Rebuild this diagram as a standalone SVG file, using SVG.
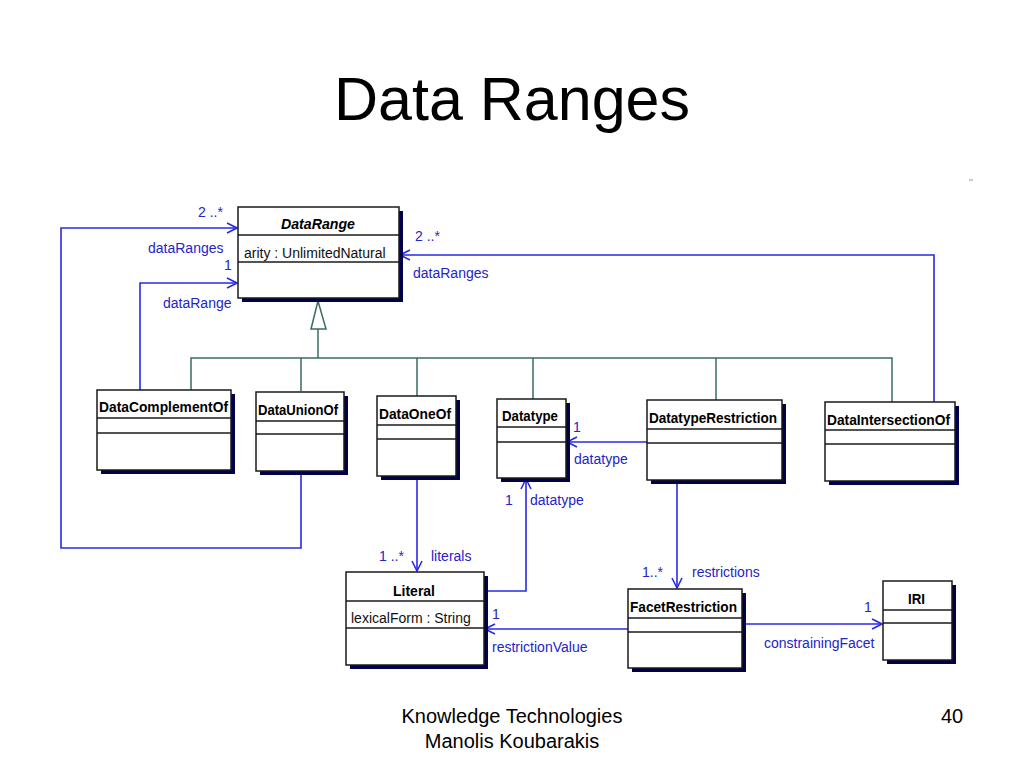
<svg xmlns="http://www.w3.org/2000/svg" width="1024" height="768" viewBox="0 0 1024 768">
<defs>
<style>
.box{fill:#fff;stroke:#1a1a1a;stroke-width:1.5}
.sh{fill:#00004d}
.sep{stroke:#1a1a1a;stroke-width:1.5}
.cn{font-family:"Liberation Sans",Arial,sans-serif;font-size:15px;font-weight:bold;fill:#000}
.at{font-family:"Liberation Sans",Arial,sans-serif;font-size:14px;fill:#111}
.lb{font-family:"Liberation Sans",Arial,sans-serif;font-size:14px;fill:#2424c8}
.as{fill:none;stroke:#2a2ae6;stroke-width:1.6}
.gen{fill:none;stroke:#3b6b64;stroke-width:1.5}
.ft{font-family:"Liberation Sans",Arial,sans-serif;font-size:20px;fill:#000}
</style>
<marker id="open" viewBox="0 0 12 12" refX="11" refY="6" markerWidth="12" markerHeight="12" markerUnits="userSpaceOnUse" orient="auto">
<path d="M1,1 L11,6 L1,11" fill="none" stroke="#2a2ae6" stroke-width="1.6"/>
</marker>
</defs>
<rect width="1024" height="768" fill="#fff"/>
<text x="512" y="120" text-anchor="middle" font-family="Liberation Sans,Arial,sans-serif" font-size="61" fill="#000">Data Ranges</text>
<line x1="969" y1="180" x2="973" y2="180" stroke="#999" stroke-width="1"/>

<g id="connectors">
<g id="generalization">
<path class="gen" d="M191,390 V358 H892 V402 M301,358 V391 M417,358 V396 M533,358 V399 M716,358 V400 M318,358 V329"/>
<path class="gen" d="M318,301 L326,329 L311,329 Z" fill="#fff"/>
</g>
<path class="as" d="M301,472 V548 H61 V228 H237" marker-end="url(#open)"/>
<path class="as" d="M140,390 V283 H237" marker-end="url(#open)"/>
<path class="as" d="M934,402 V255 H400" marker-end="url(#open)"/>
<path class="as" d="M647,442 H567" marker-end="url(#open)"/>
<path class="as" d="M417,477 V571" marker-end="url(#open)"/>
<path class="as" d="M485,591 H526 V479" marker-end="url(#open)"/>
<path class="as" d="M677,481 V588" marker-end="url(#open)"/>
<path class="as" d="M628,629 H485" marker-end="url(#open)"/>
<path class="as" d="M743,624 H882" marker-end="url(#open)"/>
<text class="lb" x="198" y="217">2 ..*</text>
<text class="lb" x="148" y="253">dataRanges</text>
<text class="lb" x="224" y="270">1</text>
<text class="lb" x="163" y="308">dataRange</text>
<text class="lb" x="415" y="241">2 ..*</text>
<text class="lb" x="413" y="278">dataRanges</text>
<text class="lb" x="573" y="432">1</text>
<text class="lb" x="574" y="464">datatype</text>
<text class="lb" x="505" y="505">1</text>
<text class="lb" x="530" y="505">datatype</text>
<text class="lb" x="379" y="561">1 ..*</text>
<text class="lb" x="431" y="561">literals</text>
<text class="lb" x="642" y="577">1..*</text>
<text class="lb" x="692" y="577">restrictions</text>
<text class="lb" x="492" y="619">1</text>
<text class="lb" x="492" y="652">restrictionValue</text>
<text class="lb" x="864" y="612">1</text>
<text class="lb" x="764" y="648">constrainingFacet</text>
</g>

<g id="DataRange">
<rect class="sh" x="242" y="211" width="161" height="91"/>
<rect class="box" x="238" y="207" width="161" height="91"/>
<line class="sep" x1="238" y1="235" x2="399" y2="235"/>
<line class="sep" x1="238" y1="262" x2="399" y2="262"/>
<text class="cn" x="281" y="229" font-style="italic" textLength="74" lengthAdjust="spacingAndGlyphs">DataRange</text>
<text class="at" x="244" y="258">arity : UnlimitedNatural</text>
</g>

<g id="DataComplementOf">
<rect class="sh" x="101" y="394" width="134" height="80"/>
<rect class="box" x="97" y="390" width="134" height="80"/>
<line class="sep" x1="97" y1="418" x2="231" y2="418"/>
<line class="sep" x1="97" y1="433" x2="231" y2="433"/>
<text class="cn" x="99" y="412" textLength="129" lengthAdjust="spacingAndGlyphs">DataComplementOf</text>
</g>

<g id="DataUnionOf">
<rect class="sh" x="260" y="396" width="88" height="79"/>
<rect class="box" x="256" y="392" width="88" height="79"/>
<line class="sep" x1="256" y1="421" x2="344" y2="421"/>
<line class="sep" x1="256" y1="434" x2="344" y2="434"/>
<text class="cn" x="258" y="415" textLength="80" lengthAdjust="spacingAndGlyphs">DataUnionOf</text>
</g>

<g id="DataOneOf">
<rect class="sh" x="381" y="400" width="79" height="80"/>
<rect class="box" x="377" y="396" width="79" height="80"/>
<line class="sep" x1="377" y1="425" x2="456" y2="425"/>
<line class="sep" x1="377" y1="439" x2="456" y2="439"/>
<text class="cn" x="379" y="419" textLength="72" lengthAdjust="spacingAndGlyphs">DataOneOf</text>
</g>

<g id="Datatype">
<rect class="sh" x="501" y="403" width="69" height="79"/>
<rect class="box" x="497" y="399" width="69" height="79"/>
<line class="sep" x1="497" y1="427" x2="566" y2="427"/>
<line class="sep" x1="497" y1="442" x2="566" y2="442"/>
<text class="cn" x="502" y="421" textLength="56" lengthAdjust="spacingAndGlyphs">Datatype</text>
</g>

<g id="DatatypeRestriction">
<rect class="sh" x="651" y="404" width="135" height="80"/>
<rect class="box" x="647" y="400" width="135" height="80"/>
<line class="sep" x1="647" y1="429" x2="782" y2="429"/>
<line class="sep" x1="647" y1="443" x2="782" y2="443"/>
<text class="cn" x="649" y="423" textLength="128" lengthAdjust="spacingAndGlyphs">DatatypeRestriction</text>
</g>

<g id="DataIntersectionOf">
<rect class="sh" x="829" y="406" width="130" height="79"/>
<rect class="box" x="825" y="402" width="130" height="79"/>
<line class="sep" x1="825" y1="430" x2="955" y2="430"/>
<line class="sep" x1="825" y1="444" x2="955" y2="444"/>
<text class="cn" x="827" y="425" textLength="123" lengthAdjust="spacingAndGlyphs">DataIntersectionOf</text>
</g>

<g id="Literal">
<rect class="sh" x="350" y="576" width="138" height="93"/>
<rect class="box" x="346" y="572" width="138" height="93"/>
<line class="sep" x1="346" y1="601" x2="484" y2="601"/>
<line class="sep" x1="346" y1="628" x2="484" y2="628"/>
<text class="cn" x="393" y="596" textLength="42" lengthAdjust="spacingAndGlyphs">Literal</text>
<text class="at" x="351" y="623">lexicalForm : String</text>
</g>

<g id="FacetRestriction">
<rect class="sh" x="632" y="593" width="114" height="79"/>
<rect class="box" x="628" y="589" width="114" height="79"/>
<line class="sep" x1="628" y1="618" x2="742" y2="618"/>
<line class="sep" x1="628" y1="632" x2="742" y2="632"/>
<text class="cn" x="630" y="612" textLength="107" lengthAdjust="spacingAndGlyphs">FacetRestriction</text>
</g>

<g id="IRI">
<rect class="sh" x="887" y="585" width="69" height="79"/>
<rect class="box" x="883" y="581" width="69" height="79"/>
<line class="sep" x1="883" y1="610" x2="952" y2="610"/>
<line class="sep" x1="883" y1="623" x2="952" y2="623"/>
<text class="cn" x="908" y="604" textLength="17" lengthAdjust="spacingAndGlyphs">IRI</text>
</g>

<text class="ft" x="512" y="723" text-anchor="middle">Knowledge Technologies</text>
<text class="ft" x="512" y="748" text-anchor="middle">Manolis Koubarakis</text>
<text class="ft" x="952" y="723" text-anchor="middle">40</text>
</svg>
